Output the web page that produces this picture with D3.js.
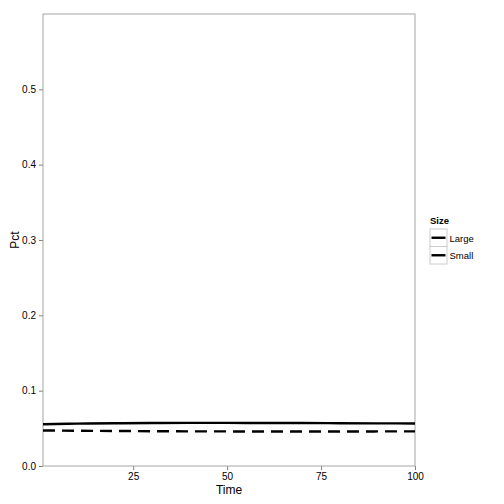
<!DOCTYPE html>
<html>
<head>
<meta charset="utf-8">
<script src="https://cdn.jsdelivr.net/npm/d3@7"></script>
<style>
  body { margin: 0; background: #fff; }
  text { font-family: "Liberation Sans", Arial, sans-serif; }
</style>
</head>
<body>
<div id="chart"></div>
<script>
// values
var times = [1, 10, 20, 30, 40, 50, 60, 70, 80, 90, 100]
var largePct = [0.0555, 0.0562, 0.0567, 0.0570, 0.0572, 0.0572, 0.0571, 0.0570, 0.0568, 0.0566, 0.0565]
var smallPct = [0.0472, 0.0468, 0.0465, 0.0462, 0.0460, 0.0459, 0.0458, 0.0458, 0.0458, 0.0459, 0.0460]
var sizeLabels = ["Large", "Small"]
var xTicks = [25, 50, 75, 100]
var yTicks = [0, 0.1, 0.2, 0.3, 0.4, 0.5]

var svgSize = { width: 504, height: 504 }
var margin = { top: 14, left: 43, right: 89, bottom: 38 }
var chartSize = {
    width: svgSize.width - margin.left - margin.right,
    height: svgSize.height - margin.top - margin.bottom
}

var svg = d3.select("#chart").append("svg")
    .attr("width", svgSize.width)
    .attr("height", svgSize.height)

var frame = svg.append("g")
    .attr("transform", `translate(${margin.left},${margin.top})`)

var xScale = d3.scaleLinear().domain([1, 100]).range([0, chartSize.width])
var yScale = d3.scaleLinear().domain([0, 0.6]).range([chartSize.height, 0])

// axes
var bottomAxis = d3.axisBottom(xScale).tickValues(xTicks).tickSize(4).tickPadding(3)
var leftAxis = d3.axisLeft(yScale).tickValues(yTicks).tickSize(4).tickPadding(3)
    .tickFormat(d => d === 0 ? "0.0" : d3.format(".1f")(d))

var xg = frame.append("g").attr("transform", `translate(0,${chartSize.height})`).call(bottomAxis)
var yg = frame.append("g").call(leftAxis)
;[xg, yg].forEach(g => {
    g.select(".domain").remove()
    g.selectAll(".tick line").attr("stroke", "#7f7f7f")
    g.selectAll(".tick text").attr("fill", "#000").style("font-size", "10px")
})

frame.append("rect")
    .attr("width", chartSize.width)
    .attr("height", chartSize.height)
    .attr("fill", "none")
    .attr("stroke", "#a6a6a6")
    .attr("stroke-width", 1)

// lines
var series = [
    { name: "Large", values: largePct, dash: null },
    { name: "Small", values: smallPct, dash: "12,7" }
]
var line = d3.line()
    .x((d, i) => xScale(times[i]))
    .y(d => yScale(d))
    .curve(d3.curveMonotoneX)

frame.selectAll(".series").data(series).enter().append("path")
    .attr("class", "series")
    .attr("d", d => line(d.values))
    .attr("fill", "none")
    .attr("stroke", "#000")
    .attr("stroke-width", 2.4)
    .attr("stroke-dasharray", d => d.dash)

// axis titles
svg.append("text")
    .attr("x", margin.left + chartSize.width / 2)
    .attr("y", 494)
    .attr("text-anchor", "middle")
    .style("font-size", "12px")
    .text("Time")

svg.append("text")
    .attr("transform", `translate(19,${margin.top + chartSize.height / 2}) rotate(-90)`)
    .attr("text-anchor", "middle")
    .style("font-size", "12px")
    .text("Pct")

// legend
var legend = svg.append("g").attr("transform", "translate(430,210)")
legend.append("text")
    .attr("x", 0).attr("y", 14)
    .style("font-size", "9.5px")
    .style("font-weight", "bold")
    .text("Size")

var keys = legend.selectAll(".key").data(sizeLabels).enter().append("g")
    .attr("class", "key")
    .attr("transform", (d, i) => `translate(0,${19 + i * 17.5})`)
keys.append("rect")
    .attr("width", 17).attr("height", 17.5)
    .attr("fill", "#fff").attr("stroke", "#cccccc")
keys.append("line")
    .attr("x1", 1.5).attr("x2", 15.5)
    .attr("y1", 8.75).attr("y2", 8.75)
    .attr("stroke", "#000").attr("stroke-width", 2.4)
keys.append("text")
    .attr("x", 19.5).attr("y", 12.5)
    .style("font-size", "9.5px")
    .text(d => d)
</script>
</body>
</html>
